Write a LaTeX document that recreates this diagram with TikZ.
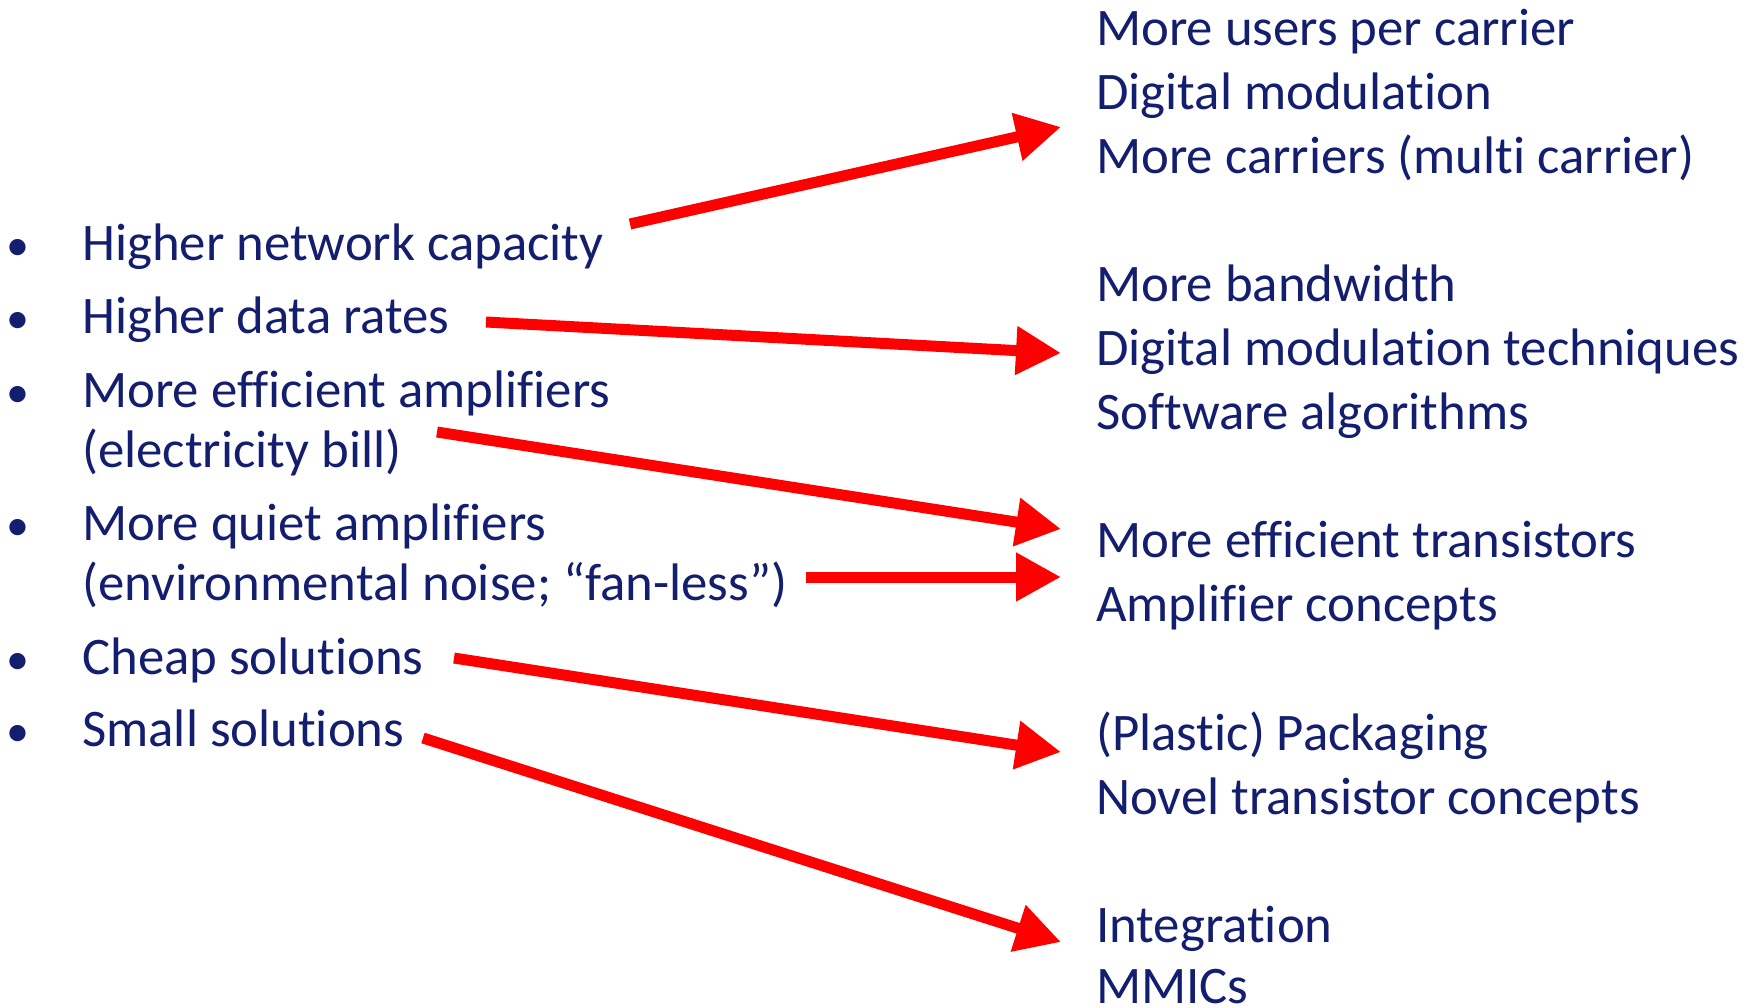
\documentclass[tikz,border=0pt]{standalone}
\usepackage{fontspec}
\setmainfont{Carlito}[Ligatures={NoCommon}]
\usetikzlibrary{arrows.meta}
\definecolor{navy}{RGB}{20, 30, 110}
\definecolor{flowred}{RGB}{255, 0, 0}

\begin{document}
\begin{tikzpicture}[
    x=1pt, y=-1pt,
    item/.style={
        anchor=base west, inner sep=0pt,
        text=navy, font=\fontsize{52.8}{60}\selectfont
    },
    flow/.style={
        -{Triangle[length=45pt, width=46pt]}, line width=11pt, draw=flowred
    }
]
\useasboundingbox (0,0) rectangle (1759,1007);

% Requirements (left column)
\foreach \y/\txt [count=\i] in {260/Higher network capacity, 333/Higher data rates,
    407/More efficient amplifiers, 467/(electricity bill), 540/More quiet amplifiers,
    600/(environmental noise; “fan-less”), 674/Cheap solutions, 746/Small solutions}
    \node[item] (req\i) at (82,\y) {\txt};

% Bullets
\foreach \y [count=\i] in {260, 333, 407, 540, 674, 746}
    \node[item, font=\fontsize{46}{60}\selectfont] (dot\i) at (6,\y) {\textbullet};

% Solutions (right column)
\foreach \y/\txt [count=\i] in {45/More users per carrier, 109/Digital modulation,
    173/More carriers (multi carrier), 301/More bandwidth,
    365/Digital modulation techniques, 429/Software algorithms,
    557/More efficient transistors, 621/Amplifier concepts,
    750/(Plastic) Packaging, 814/Novel transistor concepts,
    942/Integration, 1003/MMICs}
    \node[item] (sol\i) at (1096,\y) {\txt};

% Arrow end points
\coordinate (capFrom) at (630,224);  \coordinate (capTo) at (1061,127);
\coordinate (rateFrom) at (486,322); \coordinate (rateTo) at (1061,353);
\coordinate (effFrom) at (437,432);  \coordinate (effTo) at (1061,529);
\coordinate (quietFrom) at (806,577); \coordinate (quietTo) at (1061,577);
\coordinate (cheapFrom) at (454,658); \coordinate (cheapTo) at (1061,752);
\coordinate (smallFrom) at (423,738); \coordinate (smallTo) at (1061,942);

% Arrows
\draw[flow] (capFrom) -- (capTo);
\draw[flow] (rateFrom) -- (rateTo);
\draw[flow] (effFrom) -- (effTo);
\draw[flow] (quietFrom) -- (quietTo);
\draw[flow] (cheapFrom) -- (cheapTo);
\draw[flow] (smallFrom) -- (smallTo);

\end{tikzpicture}
\end{document}
